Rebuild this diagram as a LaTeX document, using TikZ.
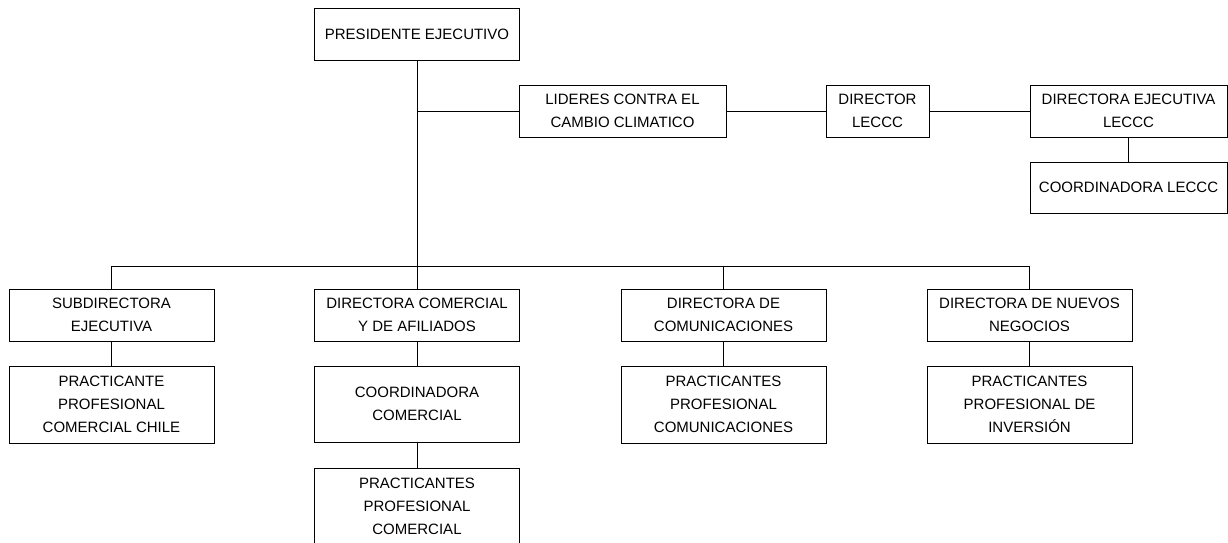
\documentclass[tikz,border=0pt]{standalone}
\usepackage{fontspec}
\setmainfont{Liberation Sans}
\usetikzlibrary{positioning}

\begin{document}
\begin{tikzpicture}[x=1pt,y=-1pt,
    every node/.style={font=\fontsize{15}{23}\selectfont},
    cargo/.style={draw,line width=1pt,align=center,inner sep=0pt,
      minimum width=205pt,minimum height=52pt},
    trio/.style={cargo,minimum height=77pt},
    linea/.style={line width=1pt},
     ]
    \useasboundingbox (0,0) rectangle (1228,543);
    % cabeza y rama LECCC
    \node[cargo] (pres) at (417,34.5) {PRESIDENTE EJECUTIVO};
    \node[cargo,minimum width=207pt] (lid) at (622.5,111) {LIDERES CONTRA EL\\CAMBIO CLIMATICO};
    \node[cargo,minimum width=103pt] (dirl) at (877.5,111) {DIRECTOR\\LECCC};
    \node[cargo,minimum width=197pt] (dejl) at (1128.5,111) {DIRECTORA EJECUTIVA\\LECCC};
    \node[cargo,minimum width=197pt,minimum height=51pt] (coordl) at (1128.5,187.5) {COORDINADORA LECCC};
    % direcciones
    \node[cargo] (sub) at (111.5,315) {SUBDIRECTORA\\EJECUTIVA};
    \node[cargo] (dcom) at (417,315) {DIRECTORA COMERCIAL\\Y DE AFILIADOS};
    \node[cargo] (dcomu) at (723.5,315) {DIRECTORA DE\\COMUNICACIONES};
    \node[cargo] (dnue) at (1029.5,315) {DIRECTORA DE NUEVOS\\NEGOCIOS};
    % practicantes
    \node[trio] (psub) at (111.5,404.5) {PRACTICANTE\\PROFESIONAL\\COMERCIAL CHILE};
    \node[cargo,minimum height=76pt] (ccom) at (417,404) {COORDINADORA\\COMERCIAL};
    \node[trio] (pcom) at (417,506.5) {PRACTICANTES\\PROFESIONAL\\COMERCIAL};
    \node[trio] (pcomu) at (723.5,404.5) {PRACTICANTES\\PROFESIONAL\\COMUNICACIONES};
    \node[trio] (pnue) at (1029.5,404.5) {PRACTICANTES\\PROFESIONAL DE\\INVERSIÓN};
    \coordinate (barra) at (417,266);
    % lineas
    \draw[linea] (pres.south) -- (dcom.north);
    \draw[linea] (lid.west -| pres.south) -- (lid.west);
    \draw[linea] (lid.east) -- (dirl.west);
    \draw[linea] (dirl.east) -- (dejl.west);
    \draw[linea] (dejl.south) -- (coordl.north);
    \draw[linea] (sub.north) -- (sub.north |- barra) -- (dnue.north |- barra) -- (dnue.north);
    \draw[linea] (dcomu.north |- barra) -- (dcomu.north);
    \draw[linea] (sub.south) -- (psub.north);
    \draw[linea] (dcom.south) -- (ccom.north);
    \draw[linea] (ccom.south) -- (pcom.north);
    \draw[linea] (dcomu.south) -- (pcomu.north);
    \draw[linea] (dnue.south) -- (pnue.north);
\end{tikzpicture}
\end{document}
